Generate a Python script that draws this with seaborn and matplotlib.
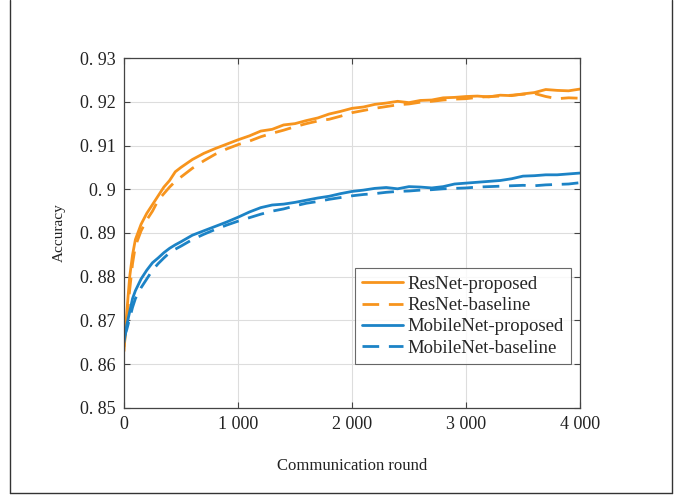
import pandas as pd
import numpy as np
import seaborn as sns
import matplotlib.pyplot as plt
from matplotlib.lines import Line2D

rounds = [0, 25, 50, 75, 100, 150, 200, 250, 300, 350, 400, 450, 500,
          600, 700, 800, 900, 1000, 1100, 1200, 1300, 1400, 1500, 1600, 1700,
          1800, 1900, 2000, 2100, 2200, 2300, 2400, 2500, 2600, 2700, 2800,
          2900, 3000, 3100, 3200, 3300, 3400, 3500, 3600, 3700, 3800, 3900, 4000]

resnet_proposed = [0.8630, 0.8720, 0.8800, 0.8850, 0.8885, 0.8920, 0.8945, 0.8965, 0.8985,
                   0.9005, 0.9020, 0.9040, 0.9050, 0.9068, 0.9082, 0.9093, 0.9103, 0.9113,
                   0.9122, 0.9133, 0.9137, 0.9147, 0.9150, 0.9157, 0.9163, 0.9172, 0.9178,
                   0.9185, 0.9188, 0.9194, 0.9197, 0.9201, 0.9198, 0.9203, 0.9204, 0.9209,
                   0.9210, 0.9212, 0.9213, 0.9211, 0.9215, 0.9214, 0.9218, 0.9221, 0.9228,
                   0.9226, 0.9225, 0.9229]
resnet_baseline = [0.8640, 0.8700, 0.8770, 0.8830, 0.8870, 0.8905, 0.8930, 0.8950, 0.8975,
                   0.8990, 0.9005, 0.9018, 0.9028, 0.9048, 0.9065, 0.9080, 0.9092, 0.9102,
                   0.9110, 0.9120, 0.9128, 0.9135, 0.9143, 0.9150, 0.9156, 0.9160, 0.9167,
                   0.9175, 0.9180, 0.9185, 0.9189, 0.9193, 0.9195, 0.9199, 0.9201, 0.9204,
                   0.9206, 0.9207, 0.9210, 0.9212, 0.9213, 0.9215, 0.9217, 0.9219, 0.9212,
                   0.9207, 0.9209, 0.9208]
mobilenet_proposed = [0.8650, 0.8690, 0.8720, 0.8750, 0.8768, 0.8795, 0.8815, 0.8832, 0.8843,
                      0.8855, 0.8865, 0.8873, 0.8880, 0.8895, 0.8905, 0.8915, 0.8925, 0.8936,
                      0.8948, 0.8958, 0.8964, 0.8966, 0.8970, 0.8975, 0.8980, 0.8984, 0.8990,
                      0.8995, 0.8998, 0.9002, 0.9004, 0.9001, 0.9006, 0.9005, 0.9003, 0.9006,
                      0.9012, 0.9014, 0.9016, 0.9018, 0.9020, 0.9024, 0.9030, 0.9031, 0.9033,
                      0.9033, 0.9035, 0.9037]
mobilenet_baseline = [0.8660, 0.8680, 0.8705, 0.8730, 0.8750, 0.8775, 0.8795, 0.8815, 0.8830,
                      0.8843, 0.8855, 0.8863, 0.8870, 0.8885, 0.8897, 0.8908, 0.8918, 0.8927,
                      0.8935, 0.8943, 0.8950, 0.8955, 0.8962, 0.8968, 0.8972, 0.8977, 0.8981,
                      0.8985, 0.8988, 0.8990, 0.8993, 0.8995, 0.8996, 0.8998, 0.8999, 0.9001,
                      0.9002, 0.9003, 0.9005, 0.9006, 0.9007, 0.9008, 0.9009, 0.9008, 0.9010,
                      0.9011, 0.9012, 0.9015]

series_names = ['ResNet-proposed', 'ResNet-baseline', 'MobileNet-proposed', 'MobileNet-baseline']
x_ticks = [0, 1000, 2000, 3000, 4000]
x_ticklabels = ['0', '1 000', '2 000', '3 000', '4 000']
y_ticks = [0.85, 0.86, 0.87, 0.88, 0.89, 0.90, 0.91, 0.92, 0.93]
y_ticklabels = ['0. 85', '0. 86', '0. 87', '0. 88', '0. 89', '0. 9', '0. 91', '0. 92', '0. 93']

# long-form table for seaborn
df = pd.concat([
    pd.DataFrame({'round': rounds, 'acc': vals, 'series': name})
    for name, vals in zip(series_names, [resnet_proposed, resnet_baseline,
                                         mobilenet_proposed, mobilenet_baseline])
])

sns.set_theme(style='ticks')
plt.rcParams['font.family'] = ['Liberation Serif', 'DejaVu Serif']

orange = '#F7941D'
blue = '#1C83C6'
palette = {'ResNet-proposed': orange, 'ResNet-baseline': orange,
           'MobileNet-proposed': blue, 'MobileNet-baseline': blue}
dashes = {'ResNet-proposed': '', 'ResNet-baseline': (6, 3.5),
          'MobileNet-proposed': '', 'MobileNet-baseline': (6, 3.5)}

fig = plt.figure(figsize=(6.82, 4.95), dpi=100)
ax = fig.add_axes([0.1818, 0.1758, 0.6686, 0.707])
ax.grid(True, color='#DDDDDD', lw=0.8)
ax.set_axisbelow(True)

sns.lineplot(data=df, x='round', y='acc', hue='series', style='series',
             palette=palette, dashes=dashes, lw=2.0, ax=ax, hue_order=series_names)

ax.set_xlim(0, 4000)
ax.set_ylim(0.85, 0.93)
ax.set_xticks(x_ticks)
ax.set_xticklabels(x_ticklabels, fontsize=13, color='#222222')
ax.set_yticks(y_ticks)
ax.set_yticklabels(y_ticklabels, fontsize=13, color='#222222')
ax.tick_params(direction='in', top=True, right=True, length=4, width=0.8, color='#444444', pad=6)
for s in ax.spines.values():
    s.set_color('#444444')
    s.set_linewidth(0.9)

ax.set_xlabel('Communication round', fontsize=12, labelpad=18, color='#222222')
ax.set_ylabel('Accuracy', fontsize=11, labelpad=10, color='#222222')

leg = ax.legend(loc='lower right', bbox_to_anchor=(0.98, 0.125), fontsize=13.5,
                frameon=True, fancybox=False, edgecolor='#444444',
                handlelength=2.2, handletextpad=0.2, borderpad=0.4, labelspacing=0.22,
                borderaxespad=0)
leg.get_frame().set_linewidth(0.8)

# outer frame lines of the figure
fig.add_artist(Line2D([0.0147, 0.0147], [0.004, 1.0], color='#333333', lw=1.0))
fig.add_artist(Line2D([0.985, 0.985], [0.004, 1.0], color='#333333', lw=1.0))
fig.add_artist(Line2D([0.0147, 0.985], [0.004, 0.004], color='#333333', lw=1.0))

plt.savefig('out.png', dpi=100)
